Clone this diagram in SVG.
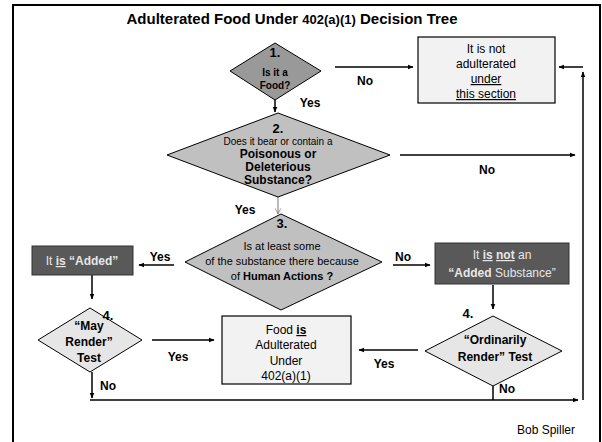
<svg xmlns="http://www.w3.org/2000/svg" width="602" height="442" viewBox="0 0 602 442">
<defs>
<marker id="ah" viewBox="0 0 10 10" refX="9" refY="5" markerWidth="6" markerHeight="6" orient="auto" markerUnits="userSpaceOnUse">
<path d="M0,1 L10,5 L0,9 z" fill="#000"/>
</marker>
<marker id="ahg" viewBox="0 0 10 10" refX="9" refY="5" markerWidth="7" markerHeight="7" orient="auto" markerUnits="userSpaceOnUse">
<path d="M1,1 L9,5 L1,9" fill="none" stroke="#777" stroke-width="1"/>
</marker>
<style>
text{font-family:"Liberation Sans",Arial,sans-serif;fill:#000;text-anchor:middle}
.b{font-weight:bold}
.line{stroke:#000;stroke-width:1.5;fill:none}
.arr{stroke:#000;stroke-width:1.5;fill:none;marker-end:url(#ah)}
.dia{stroke:#000;stroke-width:1}
.box{fill:#f2f2f2;stroke:#000;stroke-width:1.2}
.dbox{fill:#595959;stroke:#333;stroke-width:1}
.lt{fill:#e6e6e6}
</style>
</defs>
<rect x="0" y="0" width="602" height="442" fill="#fff"/>
<rect x="13" y="5" width="587" height="445" fill="none" stroke="#000" stroke-width="2"/>
<text x="292" y="24" class="b" font-size="15">Adulterated Food Under <tspan font-size="13">402(a)(1)</tspan> Decision Tree</text>

<g id="connectors">
<line class="arr" x1="335" y1="67" x2="413" y2="67"/>
<line class="arr" x1="583" y1="67" x2="559" y2="67"/>
<line class="arr" x1="583" y1="400" x2="583" y2="72"/>
<line class="arr" x1="275" y1="100" x2="275" y2="112"/>
<line class="arr" x1="400" y1="155" x2="575" y2="155"/>
<line x1="278" y1="197" x2="278" y2="214" stroke="#777" stroke-width="1" marker-end="url(#ahg)"/>
<line class="arr" x1="174" y1="265" x2="139" y2="265"/>
<line class="arr" x1="393" y1="265" x2="430" y2="265"/>
<line class="arr" x1="92" y1="275" x2="92" y2="299"/>
<line class="arr" x1="493" y1="285" x2="493" y2="309"/>
<line class="arr" x1="152" y1="340" x2="214" y2="340"/>
<line class="arr" x1="418" y1="350" x2="359" y2="350"/>
<line class="arr" x1="92" y1="372" x2="92" y2="398"/>
<line class="line" x1="493" y1="386" x2="493" y2="400"/>
<line class="arr" x1="90" y1="400" x2="578" y2="400"/>
<text x="365" y="85" class="b" font-size="12">No</text>
<text x="310" y="107" class="b" font-size="12">Yes</text>
<text x="487" y="174" class="b" font-size="12">No</text>
<text x="245" y="214" class="b" font-size="12">Yes</text>
<text x="160" y="261" class="b" font-size="12">Yes</text>
<text x="403" y="261" class="b" font-size="12">No</text>
<text x="178" y="361" class="b" font-size="12">Yes</text>
<text x="384" y="368" class="b" font-size="12">Yes</text>
<text x="108" y="390" class="b" font-size="12">No</text>
<text x="507" y="393" class="b" font-size="12">No</text>
</g>

<g id="q1">
<polygon class="dia" points="275,43 321,71 275,100 230,71" fill="#999"/>
<text x="275" y="57" class="b" font-size="13">1.</text>
<text x="275" y="76" class="b" font-size="10">Is it a</text>
<text x="275" y="89" class="b" font-size="10">Food?</text>
</g>

<g id="not-adulterated">
<rect class="box" x="418" y="37" width="137" height="66"/>
<text x="486" y="53" font-size="12">It is not</text>
<text x="486" y="68" font-size="12">adulterated</text>
<text x="486" y="83" font-size="12" text-decoration="underline">under</text>
<text x="486" y="98" font-size="12" text-decoration="underline">this section</text>
</g>

<g id="q2">
<polygon class="dia" points="278,113 390,155 278,197 167,155" fill="#c0c0c0"/>
<text x="278" y="133" class="b" font-size="13">2.</text>
<text x="278" y="145" font-size="10">Does it bear or contain a</text>
<text x="278" y="158" class="b" font-size="12">Poisonous or</text>
<text x="278" y="171" class="b" font-size="12">Deleterious</text>
<text x="278" y="184" class="b" font-size="12">Substance?</text>
</g>

<g id="q3">
<polygon class="dia" points="281,214 382,262 281,310 185,262" fill="#c0c0c0"/>
<text x="282" y="228" class="b" font-size="13">3.</text>
<text x="282" y="250" font-size="11">Is at least some</text>
<text x="282" y="265" font-size="11">of the substance there because</text>
<text x="282" y="280" font-size="11">of <tspan class="b">Human Actions ?</tspan></text>
</g>

<g id="added">
<rect class="dbox" x="32" y="246" width="101" height="29"/>
<text x="82" y="265" font-size="12" class="lt">It <tspan class="b lt" text-decoration="underline">is</tspan> <tspan class="b lt">“Added”</tspan></text>
</g>

<g id="not-added">
<rect class="dbox" x="435" y="243" width="134" height="41"/>
<text x="502" y="259" font-size="12" class="lt">It <tspan class="b lt" text-decoration="underline">is</tspan> <tspan class="b lt" text-decoration="underline">not</tspan> an</text>
<text x="502" y="277" font-size="12" class="lt"><tspan class="b lt">“Added</tspan> Substance”</text>
</g>

<g id="may-render">
<polygon class="dia" points="90,308 142,340 90,372 38,340" fill="#e6e6e6"/>
<text x="108" y="320" class="b" font-size="13">4.</text>
<text x="89" y="330" class="b" font-size="12">“May</text>
<text x="89" y="346" class="b" font-size="12">Render”</text>
<text x="89" y="362" class="b" font-size="12">Test</text>
</g>

<g id="adulterated">
<rect class="box" x="222" y="316" width="129" height="68"/>
<text x="286" y="334" font-size="12">Food <tspan class="b" text-decoration="underline">is</tspan></text>
<text x="286" y="349" font-size="12">Adulterated</text>
<text x="286" y="365" font-size="12">Under</text>
<text x="286" y="380" font-size="12">402(a)(1)</text>
</g>

<g id="ordinarily-render">
<polygon class="dia" points="493,316 562,351 493,386 425,351" fill="#e6e6e6"/>
<text x="468" y="318" class="b" font-size="13">4.</text>
<text x="495" y="344" class="b" font-size="12">“Ordinarily</text>
<text x="495" y="361" class="b" font-size="12">Render” Test</text>
</g>

<text x="546" y="434" font-size="12">Bob Spiller</text>
</svg>
